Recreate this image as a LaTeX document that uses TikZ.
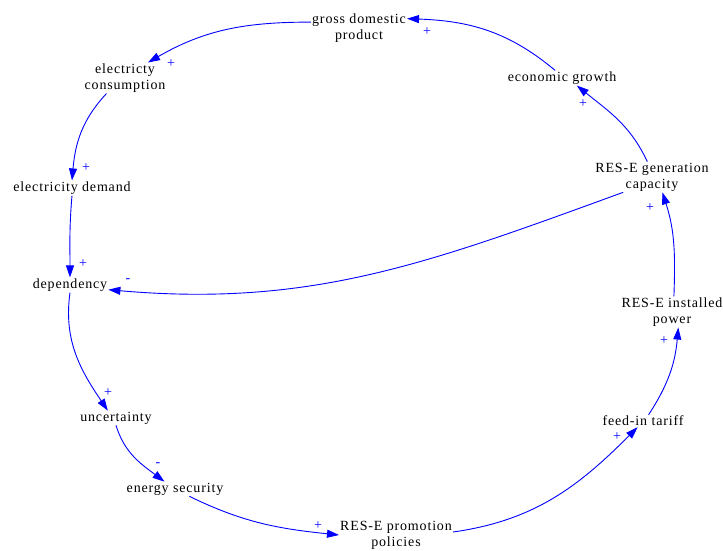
\documentclass[tikz,border=0pt]{standalone}
\usepackage{fontspec}
\setmainfont{Liberation Serif}
\newfontfamily\vfont[LetterSpace=6]{Liberation Serif}
\usetikzlibrary{arrows.meta}
\definecolor{linkblue}{RGB}{0,0,255}
\begin{document}
\begin{tikzpicture}[x=1pt,y=1pt,
  var/.style={align=center, inner sep=1pt, font=\vfont\fontsize{14}{16}\selectfont, text=black},
  lnk/.style={draw=linkblue, line width=0.9pt, -{Triangle[length=12pt,width=8pt]}},
  pol/.style={text=linkblue, font=\fontsize{14}{14}\selectfont, inner sep=0pt}]
\useasboundingbox (0,0) rectangle (723,550);
\node[var] (gdp) at (359,522) {gross domestic\\product};
\node[var] (ec) at (125,472) {electricty\\consumption};
\node[var] (ed) at (72,362) {electricity demand};
\node[var] (dep) at (70,265) {dependency};
\node[var] (unc) at (116,132) {uncertainty};
\node[var] (es) at (175,61) {energy security};
\node[var] (pp) at (396,15) {RES-E promotion\\policies};
\node[var] (fit) at (643,129) {feed-in tariff};
\node[var] (ip) at (672,238) {RES-E installed\\power};
\node[var] (gc) at (652,373) {RES-E generation\\capacity};
\node[var] (eg) at (562,472) {economic growth};
\draw[lnk] (eg.132) to[out=140,in=-2] (gdp.11);
\draw[lnk] (gdp.173) to[out=180,in=30] (ec.34);
\draw[lnk] (ec.220) to[out=227,in=85] (ed.north);
\draw[lnk] (ed.south) to[out=265,in=90] (dep.north);
\draw[lnk] (dep.south) to[out=262,in=124] (unc.138);
\draw[lnk] (unc.south) to[out=287,in=143] (es.145);
\draw[lnk] (es.-27) to[out=-26,in=174] (pp.west);
\draw[lnk] (pp.3) to[out=8,in=225] (fit.229);
\draw[lnk] (fit.48) to[out=57,in=265] (ip.-68);
\draw[lnk] (ip.83) to[out=88,in=-72] (gc.-56);
\draw[lnk] (gc.107) to[out=115,in=-39] (eg.-27);
\draw[lnk] (gc.208) to[out=200,in=-5] (dep.-7);
\node[pol] (p1) at (427,518) {+};
\node[pol] (p2) at (171,486) {+};
\node[pol] (p3) at (86,382) {+};
\node[pol] (p4) at (83,286) {+};
\node[pol] (m1) at (128,269) {-};
\node[pol] (p5) at (108,157) {+};
\node[pol] (m2) at (158,85) {-};
\node[pol] (p6) at (318,24) {+};
\node[pol] (p7) at (617,113) {+};
\node[pol] (p8) at (664,209) {+};
\node[pol] (p9) at (650,342) {+};
\node[pol] (p10) at (583,446) {+};
\end{tikzpicture}
\end{document}
